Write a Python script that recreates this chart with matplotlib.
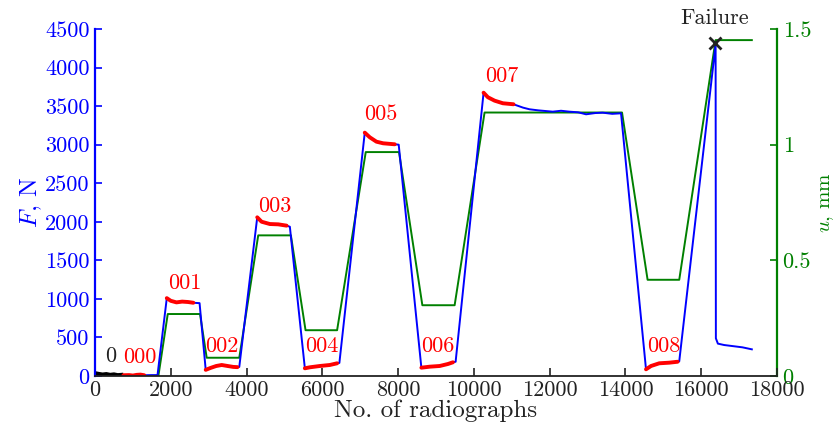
import matplotlib
matplotlib.use("Agg")
import matplotlib.pyplot as plt

plt.rcParams['font.family'] = ['cmr10', 'DejaVu Serif']
plt.rcParams['mathtext.fontset'] = 'cm'
plt.rcParams['axes.unicode_minus'] = False

# ---- data ----
# radiograph series "0" (black) and hold series 000-008 (red): F in N
s0_x = [0, 100, 200, 300, 400, 500, 600, 700]
s0_F = [40, 30, 22, 28, 18, 24, 14, 18]
s000_x = [750, 900, 1000, 1100, 1200, 1300]
s000_F = [10, 12, 6, 15, 18, 10]
s001_x = [1895, 2000, 2150, 2300, 2450, 2596]
s001_F = [1010, 975, 955, 965, 960, 950]
s002_x = [2922, 3050, 3200, 3344, 3500, 3650, 3760]
s002_F = [80, 105, 130, 143, 130, 118, 115]
s003_x = [4282, 4396, 4615, 4835, 5057]
s003_F = [2058, 2001, 1971, 1967, 1950]
s004_x = [5539, 5671, 5935, 6198, 6390]
s004_F = [100, 113, 130, 143, 165]
s005_x = [7120, 7252, 7428, 7604, 7911]
s005_F = [3156, 3096, 3039, 3018, 3005]
s006_x = [8614, 8834, 9097, 9316, 9447]
s006_F = [108, 121, 130, 156, 178]
s007_x = [10256, 10370, 10546, 10765, 11046]
s007_F = [3674, 3615, 3571, 3537, 3524]
s008_x = [14543, 14675, 14893, 15156, 15376]
s008_F = [87, 130, 165, 173, 185]

# force trace between the series
gap0_x = [1500, 1650]
gap0_F = [12, 12]
gap1_x = [2760]
gap1_F = [945]
gap2_x = [3808]
gap2_F = [118]
gap3_x = [5143]
gap3_F = [1936]
gap4_x = [6450]
gap4_F = [170]
gap5_x = [8016]
gap5_F = [3000]
gap6_x = [9518]
gap6_F = [185]
gap7_x = [11300, 11468, 11700, 12082, 12300, 12522, 12750, 12961, 13200,
          13400, 13650, 13884]
gap7_F = [3480, 3459, 3445, 3428, 3440, 3428, 3420, 3394, 3410,
          3415, 3400, 3407]
gap8_x = [15420, 16380, 16387, 16440, 16605, 17088, 17336]
gap8_F = [190, 4300, 489, 420, 402, 372, 346]

# displacement u (mm)
u_x = [0, 1673, 1920, 2772, 2948, 3808, 4308, 5170, 5557, 6390, 7146, 8024,
       8640, 9492, 10282, 13910, 14585, 15420, 16380, 17336]
u_y = [0, 0, 0.268, 0.268, 0.079, 0.079, 0.608, 0.608, 0.198, 0.198, 0.968,
       0.968, 0.306, 0.306, 1.139, 1.139, 0.416, 0.416, 1.452, 1.452]

hold_labels = ['000', '001', '002', '003', '004', '005', '006', '007', '008']
label_x = [1190, 2377, 3352, 4749, 5987, 7542, 9044, 10725, 15020]
label_y = [246, 1206, 389, 2205, 389, 3398, 389, 3891, 389]

failure_x = 16360
failure_F = 4323

BLUE = '#0000ff'
GREEN = '#008000'
RED = '#ff0000'
DARK = '#222222'

series = [(s000_x, s000_F), (s001_x, s001_F), (s002_x, s002_F),
          (s003_x, s003_F), (s004_x, s004_F), (s005_x, s005_F),
          (s006_x, s006_F), (s007_x, s007_F), (s008_x, s008_F)]
gaps = [(gap0_x, gap0_F), (gap1_x, gap1_F), (gap2_x, gap2_F),
        (gap3_x, gap3_F), (gap4_x, gap4_F), (gap5_x, gap5_F),
        (gap6_x, gap6_F), (gap7_x, gap7_F), (gap8_x, gap8_F)]
F_x = list(s0_x)
F_y = list(s0_F)
for (sx, sy), (gx, gy) in zip(series, gaps):
    F_x += sx + gx
    F_y += sy + gy

fig = plt.figure(figsize=(8.37, 4.33), dpi=100)
ax1 = fig.add_axes([0.1135, 0.1316, 0.8148, 0.8014])
ax2 = ax1.twinx()
ax1.set_zorder(ax2.get_zorder() + 1)
ax1.patch.set_visible(False)

ax2.plot(u_x, u_y, color=GREEN, lw=1.4)
ax1.plot(F_x, F_y, color=BLUE, lw=1.4)
ax1.plot(s0_x, s0_F, color='black', lw=2.6)
for xs, ys in series:
    ax1.plot(xs, ys, color=RED, lw=2.8, solid_capstyle='round')

ax1.plot([failure_x], [failure_F], marker='x', color=DARK, ms=9, mew=2,
         clip_on=False, zorder=5)
ax1.text(failure_x, 4640, 'Failure', ha='center', va='center', fontsize=16,
         color=DARK, clip_on=False)

ax1.text(427, 250, '0', ha='center', va='center', fontsize=16, color=DARK)
for t, x, y in zip(hold_labels, label_x, label_y):
    ax1.text(x, y, t, ha='center', va='center', fontsize=16, color=RED)

ax1.set_xlim(0, 18000)
ax1.set_ylim(0, 4500)
ax2.set_ylim(0, 1.5)
ax1.set_xticks(range(0, 18001, 2000))
ax1.set_yticks(range(0, 4501, 500))
ax2.set_yticks([0, 0.5, 1, 1.5])
ax2.set_yticklabels(['0', '0.5', '1', '1.5'])

for s in ['top', 'right']:
    ax1.spines[s].set_visible(False)
for s in ['top', 'left', 'bottom']:
    ax2.spines[s].set_visible(False)
ax1.spines['left'].set_color(BLUE)
ax1.spines['left'].set_linewidth(1.6)
ax1.spines['bottom'].set_color(DARK)
ax1.spines['bottom'].set_linewidth(1.3)
ax2.spines['right'].set_color(GREEN)
ax2.spines['right'].set_linewidth(1.6)

ax1.tick_params(axis='y', direction='in', colors=BLUE, labelsize=16, length=5, width=1.2, pad=4)
ax1.tick_params(axis='x', direction='in', colors=DARK, labelsize=16, length=6, width=1.2, pad=3)
ax2.tick_params(axis='y', direction='in', colors=GREEN, labelsize=16, length=5, width=1.2, pad=4)

ax1.set_xlabel('No. of radiographs', fontsize=18, color=DARK, labelpad=0)
ax1.set_ylabel(r'$F$, N', fontsize=18, color=BLUE, labelpad=1)
ax2.set_ylabel(r'$u$, mm', fontsize=15, color=GREEN, labelpad=5)

fig.savefig('out.png', dpi=100)
